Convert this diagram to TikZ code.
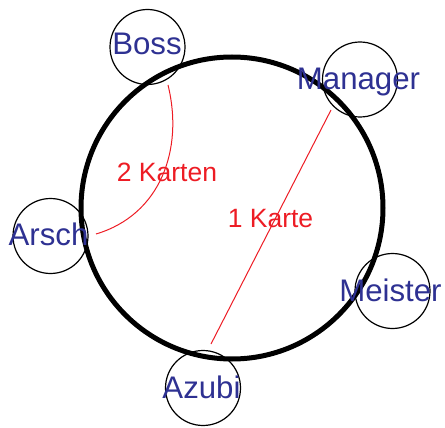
\documentclass[tikz,border=0pt]{standalone}
\usepackage{fontspec}
\setmainfont{Liberation Sans}
\definecolor{nameblue}{HTML}{2E3192}
\definecolor{karred}{HTML}{ED1C24}
\begin{document}
\begin{tikzpicture}[x=1pt,y=-1pt,
  smallc/.style={circle,draw=black,line width=1.2pt,inner sep=0pt,minimum size=75pt},
  bigc/.style={circle,draw=black,line width=5pt,inner sep=0pt,minimum size=302pt},
  person/.style={anchor=base,text=nameblue,inner sep=0pt,font=\fontsize{31.2}{31.2}\selectfont},
  karte/.style={anchor=base,text=karred,inner sep=0pt,font=\fontsize{26.5}{26.5}\selectfont},
  link/.style={draw=karred,line width=1pt}]
\useasboundingbox (0,0) rectangle (445,428);
\node[smallc] (cboss) at (147.5,47) {};
\node[smallc] (cmanager) at (360,79.5) {};
\node[smallc] (carsch) at (50.5,236) {};
\node[smallc] (cmeister) at (392.5,291) {};
\node[smallc] (cazubi) at (203,388) {};
\node[bigc] (ring) at (232,208) {};
\coordinate (b1) at (168,85);
\coordinate (a1) at (96,234);
\coordinate (m1) at (331,110);
\coordinate (z1) at (211,344);
\draw[link] (b1) .. controls (184,150) and (160,215) .. (a1);
\draw[link] (m1) -- (z1);
\node[person] (boss) at (147,55) {Boss};
\node[person] (manager) at (358.5,90) {Manager};
\node[person] (arsch) at (48.5,245) {Arsch};
\node[person] (meister) at (390.5,301) {Meister};
\node[person] (azubi) at (201.5,398) {Azubi};
\node[karte] (k2) at (167,182) {2 Karten};
\node[karte] (k1) at (270.5,227) {1 Karte};
\end{tikzpicture}
\end{document}
